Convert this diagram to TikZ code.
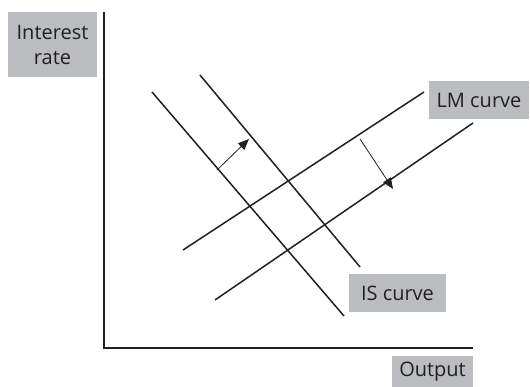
\documentclass[tikz,border=0pt]{standalone}
\usepackage{fontspec}
\setmainfont{Open Sans}
\usetikzlibrary{arrows.meta}
\definecolor{boxgray}{HTML}{BCBDC0}
\definecolor{ink}{HTML}{231F20}
\begin{document}
\begin{tikzpicture}[x=1pt,y=-1pt,
  lbl/.style={fill=boxgray,inner sep=0pt,text=ink,font=\fontsize{20}{25}\selectfont,align=center},
  curve/.style={draw=ink,line width=1.5pt},
  shiftarrow/.style={draw=ink,line width=0.8pt,-{Triangle[length=11pt,width=9pt]}}]
\useasboundingbox (0,0) rectangle (530,387);
% axes
\coordinate (ytop) at (104,12);
\coordinate (orig) at (104,348);
\coordinate (xend) at (473,348);
\draw[ink,line width=1.6pt] (ytop) -- (orig) -- (xend);
% labels
\node[lbl,minimum width=89pt,minimum height=65pt] (ir) at (52.5,44.5) {Interest\\rate};
\node[lbl,minimum width=81pt,minimum height=31pt] (out) at (432.5,371.5) {Output};
\node[lbl,minimum width=97pt,minimum height=38pt] (is) at (397.5,293) {IS curve};
\node[lbl,minimum width=100pt,minimum height=38pt] (lm) at (479,100) {LM curve};
% IS curves
\coordinate (is1a) at (152,92);
\coordinate (is1b) at (344,316);
\coordinate (is2a) at (200,75);
\coordinate (is2b) at (360,267);
\draw[curve] (is1a) -- (is1b);
\draw[curve] (is2a) -- (is2b);
% LM curves
\coordinate (lm1a) at (183,250);
\coordinate (lm1b) at (424,92);
\coordinate (lm2a) at (215,300);
\coordinate (lm2b) at (473,123);
\draw[curve] (lm1a) -- (lm1b);
\draw[curve] (lm2a) -- (lm2b);
% shift arrows
\coordinate (a1s) at (217,170);
\coordinate (a1e) at (249,139);
\coordinate (a2s) at (360,139);
\coordinate (a2e) at (393,189);
\draw[shiftarrow] (a1s) -- (a1e);
\draw[shiftarrow] (a2s) -- (a2e);
\end{tikzpicture}
\end{document}
